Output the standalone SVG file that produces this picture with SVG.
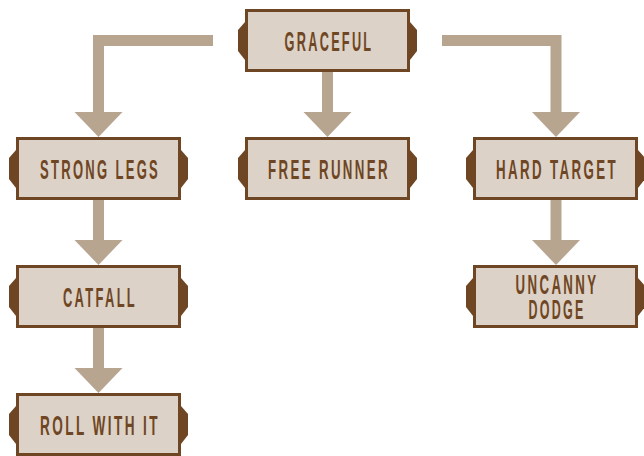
<svg xmlns="http://www.w3.org/2000/svg" width="644" height="456" viewBox="0 0 644 456">
  <defs>
    <style>
      .box { fill: #ddd2c7; stroke: #6f4623; stroke-width: 3; }
      .tab { fill: #6f4623; }
      .label { font-family: "Liberation Sans", Arial, sans-serif; font-weight: bold; font-size: 28px; letter-spacing: 5px; fill: #6f4623; text-anchor: middle; }
      .bar { fill: none; stroke: #b8a590; stroke-width: 11; }
      .head { fill: #b8a590; }
    </style>
    <!-- card with side tabs, origin at top-left of a 165x63 card -->
    <g id="card">
      <polygon class="tab" points="0,13 -7,21 -7,42 0,51"/>
      <polygon class="tab" points="165,13 172,21 172,42 165,51"/>
      <rect class="box" x="1.5" y="1.5" width="162" height="60"/>
    </g>
  </defs>

  <rect width="644" height="456" fill="#ffffff"/>

  <g id="connectors">
    <!-- graceful to strong legs -->
    <polyline class="bar" points="213,40.5 98.5,40.5 98.5,113"/>
    <polygon class="head" points="74.5,112 122.5,112 98.5,137"/>
    <!-- graceful to free runner -->
    <line class="bar" x1="327.5" y1="72" x2="327.5" y2="113"/>
    <polygon class="head" points="303.5,112 351.5,112 327.5,137"/>
    <!-- graceful to hard target -->
    <polyline class="bar" points="442,40.5 556,40.5 556,113"/>
    <polygon class="head" points="532,112 580,112 556,137"/>
    <!-- strong legs to catfall -->
    <line class="bar" x1="98.5" y1="200" x2="98.5" y2="241"/>
    <polygon class="head" points="74.5,240 122.5,240 98.5,265"/>
    <!-- catfall to roll with it -->
    <line class="bar" x1="98.5" y1="328" x2="98.5" y2="369"/>
    <polygon class="head" points="74.5,368 122.5,368 98.5,393"/>
    <!-- hard target to uncanny dodge -->
    <line class="bar" x1="556" y1="200" x2="556" y2="241"/>
    <polygon class="head" points="532,240 580,240 556,265"/>
  </g>

  <!-- labels are set in a narrowed face: scale(0.46,1), textLength in unscaled units -->
  <g id="graceful">
    <use href="#card" x="245" y="9"/>
    <text class="label" transform="translate(329,51) scale(0.46,1)" textLength="193" lengthAdjust="spacingAndGlyphs">GRACEFUL</text>
  </g>
  <g id="strong-legs">
    <use href="#card" x="16" y="137"/>
    <text class="label" transform="translate(100,179) scale(0.46,1)" textLength="261" lengthAdjust="spacingAndGlyphs">STRONG LEGS</text>
  </g>
  <g id="free-runner">
    <use href="#card" x="245" y="137"/>
    <text class="label" transform="translate(329,179) scale(0.46,1)" textLength="265" lengthAdjust="spacingAndGlyphs">FREE RUNNER</text>
  </g>
  <g id="hard-target">
    <use href="#card" x="473" y="137"/>
    <text class="label" transform="translate(557,179) scale(0.46,1)" textLength="265" lengthAdjust="spacingAndGlyphs">HARD TARGET</text>
  </g>
  <g id="catfall">
    <use href="#card" x="16" y="265"/>
    <text class="label" transform="translate(100,307) scale(0.46,1)" textLength="161" lengthAdjust="spacingAndGlyphs">CATFALL</text>
  </g>
  <g id="uncanny-dodge">
    <use href="#card" x="473" y="265"/>
    <text class="label" transform="translate(557,294) scale(0.46,1)" textLength="180" lengthAdjust="spacingAndGlyphs">UNCANNY</text>
    <text class="label" transform="translate(557,319) scale(0.46,1)" textLength="124" lengthAdjust="spacingAndGlyphs">DODGE</text>
  </g>
  <g id="roll-with-it">
    <use href="#card" x="16" y="393"/>
    <text class="label" transform="translate(100,435) scale(0.46,1)" textLength="261" lengthAdjust="spacingAndGlyphs">ROLL WITH IT</text>
  </g>
</svg>
